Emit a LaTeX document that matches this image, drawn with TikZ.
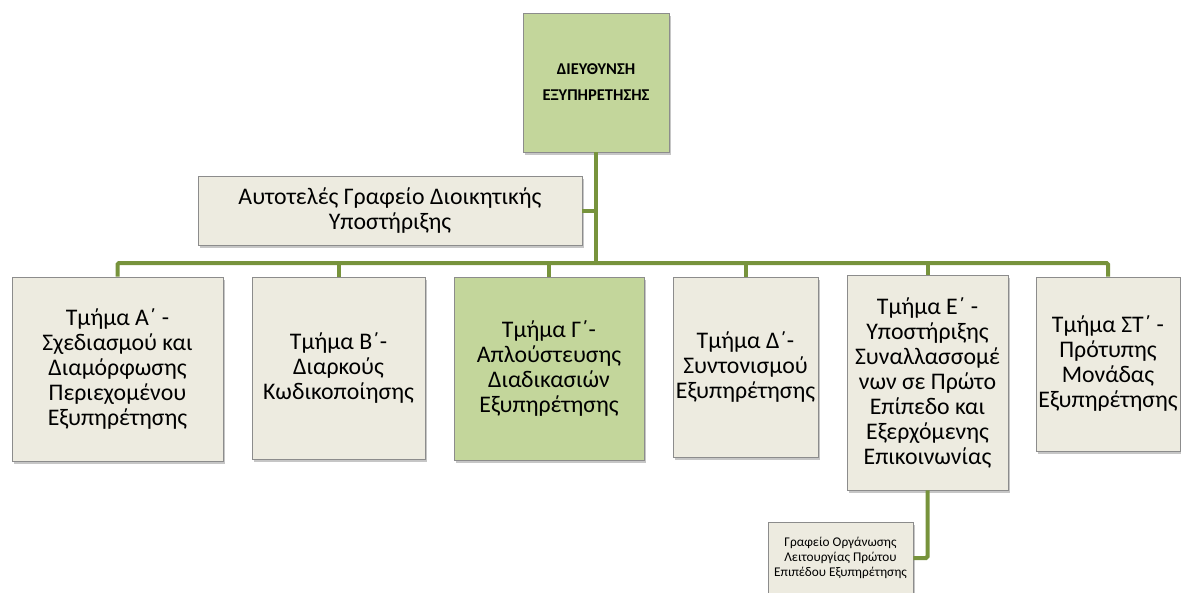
\documentclass[tikz,border=0pt]{standalone}
\usepackage{fontspec}
\setmainfont{Carlito}
\usepackage{tikz}
\usetikzlibrary{calc,shadows}
\definecolor{beige}{HTML}{EDEBE0}
\definecolor{leaf}{HTML}{C3D69B}
\definecolor{stem}{HTML}{77933C}
\definecolor{rim}{HTML}{8C8C8C}

\begin{document}
\begin{tikzpicture}[x=1pt,y=-1pt,
            box/.style={draw=rim, line width=0.8pt, fill=beige, align=center, inner sep=0pt,
                font=\fontsize{23.8}{25}\selectfont,
                drop shadow={shadow xshift=2pt, shadow yshift=-2.5pt, opacity=0.45}},
            link/.style={draw=stem, line width=4pt, rounded corners=1.5pt}]
            \useasboundingbox (0,0) rectangle (1181,592);
            \node[box, fill=leaf, minimum width=146pt, minimum height=139pt,
                font=\fontsize{16.5}{26}\selectfont\bfseries] (head) at (596,82.5) {ΔΙΕΥΘΥΝΣΗ\\ΕΞΥΠΗΡΕΤΗΣΗΣ};
            \node[box, minimum width=384pt, minimum height=69pt] (aut) at (390,210.5) {Αυτοτελές Γραφείο Διοικητικής\\Υποστήριξης};
            \node[box, minimum width=211pt, minimum height=184pt] (tA) at (117.5,369) {Τμήμα Α΄ -\\Σχεδιασμού και\\Διαμόρφωσης\\Περιεχομένου\\Εξυπηρέτησης};
            \node[box, minimum width=173pt, minimum height=182pt] (tB) at (338.5,368) {Τμήμα Β΄-\\Διαρκούς\\Κωδικοποίησης};
            \node[box, fill=leaf, minimum width=190pt, minimum height=183pt] (tG) at (549,368.5) {Τμήμα Γ΄-\\Απλούστευσης\\Διαδικασιών\\Εξυπηρέτησης};
            \node[box, minimum width=145pt, minimum height=180pt] (tD) at (745.5,367) {Τμήμα Δ΄-\\Συντονισμού\\Εξυπηρέτησης};
            \node[box, minimum width=161pt, minimum height=215pt] (tE) at (927.5,382.5) {Τμήμα Ε΄ -\\Υποστήριξης\\Συναλλασσομέ\\νων σε Πρώτο\\Επίπεδο και\\Εξερχόμενης\\Επικοινωνίας};
            \node[box, minimum width=144pt, minimum height=174pt] (tS) at (1108,364) {Τμήμα ΣΤ΄ -\\Πρότυπης\\Μονάδας\\Εξυπηρέτησης};
            \node[box, minimum width=145pt, minimum height=72pt,
                font=\fontsize{13.3}{15}\selectfont] (sub) at (840.5,558) {Γραφείο Οργάνωσης\\Λειτουργίας Πρώτου\\Επιπέδου Εξυπηρέτησης};
            % connectors
            \coordinate (bus) at (0,263);
            \draw[link] (head.south) -- (head.south |- bus);
            \draw[link] (aut.east) -- (aut.east -| head.south);
            \draw[link] (tA.north) -- (tA.north |- bus) -- (tS.north |- bus) -- (tS.north);
            \draw[link] (tB.north |- bus) -- (tB.north);
            \draw[link] (tG.north |- bus) -- (tG.north);
            \draw[link] (tD.north |- bus) -- (tD.north);
            \draw[link] (tE.north |- bus) -- (tE.north);
            \draw[link] (tE.south) |- (sub.east);
        \end{tikzpicture}
\end{document}
